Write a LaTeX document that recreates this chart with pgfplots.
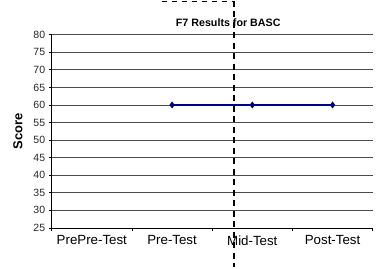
\documentclass[border=0pt]{standalone}
\usepackage{pgfplots}
\pgfplotsset{compat=1.18}
\usepackage{fontspec}
\setmainfont{Liberation Sans}
\definecolor{navy}{RGB}{0,0,128}
\begin{document}
\begin{tikzpicture}
\begin{axis}[
  scale only axis,
  width=321pt, height=193.2pt,
  xmin=-0.5, xmax=3.5,
  ymin=25, ymax=80,
  ytick={25,30,...,80},
  xtick={-0.5,0.5,1.5,2.5,3.5},
  xticklabels={},
  extra x ticks={0,1,2,3},
  extra x tick labels={PrePre-Test,Pre-Test,Mid-Test,Post-Test},
  extra x tick style={major tick length=0pt, tick label style={font=\fontsize{13.3}{15}\selectfont, yshift=-4pt}},
  axis lines*=left,
  axis line style={black, line width=0.8pt},
  ymajorgrids,
  grid style={black!70, line width=0.8pt},
  tick align=outside,
  major tick length=3pt,
  tick style={black, line width=0.8pt},
  yticklabel style={font=\fontsize{10.5}{12}\selectfont, text=black!85},
  ylabel={\textbf{Score}},
  ylabel style={font=\fontsize{13}{15}\selectfont, yshift=4pt},
  /pgf/number format/assume math mode=true,
  clip=false,
  axis on top=false,
]
\addplot[navy, line width=1.2pt, mark=diamond*, mark size=2.5pt, mark options={fill=navy}]
  coordinates {(1,60) (2,60) (3,60)};
\addplot[black, line width=2pt, dash pattern=on 6pt off 4.5pt]
  coordinates {(1.77,89.6) (1.77,13.8)};
\addplot[black, line width=1.2pt, dash pattern=on 5pt off 5pt]
  coordinates {(0.87,89.4) (1.77,89.4)};
\node[font=\fontsize{10.7}{12}\selectfont\bfseries, anchor=base] at (axis cs:1.70,82.3) {F7 Results for BASC};
\end{axis}
\useasboundingbox ([xshift=-51.7pt,yshift=-39.3pt]current axis.south west) rectangle ([xshift=3.3pt,yshift=33.5pt]current axis.north east);
\end{tikzpicture}
\end{document}
